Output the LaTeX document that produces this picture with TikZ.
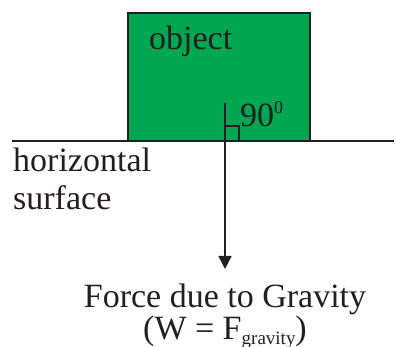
\documentclass[tikz,border=0pt]{standalone}
\usepackage{fontspec}
\setmainfont{Liberation Serif}
\usepackage{xcolor}
\usetikzlibrary{arrows.meta,positioning}
\definecolor{objgreen}{HTML}{00A651}
\definecolor{ink}{HTML}{231F20}
\begin{document}
\begin{tikzpicture}[
  x=1pt, y=-1pt,
  every node/.style={text=ink},
  big/.style={font=\fontsize{34}{32}\selectfont, inner sep=0pt},
  block/.style={draw=ink, line width=1.8pt, fill=objgreen, minimum width=182pt, minimum height=128pt, inner sep=0pt},
  surf/.style={draw=ink, line width=1.5pt},
  arr/.style={-{Triangle[length=13pt,width=13pt]}, draw=ink, line width=1.5pt}
]
\useasboundingbox (0,0) rectangle (396,347);
\node[block] (obj) at (219,77) {};
\node[big, anchor=base west] (objlbl) at (149,50) {object};
\coordinate (sl) at (12,141);
\coordinate (sr) at (394,141);
\draw[surf] (sl) -- (sr);
\node[big, anchor=base west, align=left, font=\fontsize{34}{38}\selectfont] (surflbl) at (13,210) {horizontal\\surface};
% weight arrow and right angle
\coordinate (top) at (225,103);
\coordinate (tip) at (225,269);
\draw[arr] (top) -- (tip);
\draw[surf] (225,126) rectangle (239,141);
\node[big, anchor=base west] (ang) at (240,127) {90\raisebox{13pt}{\fontsize{18}{18}\selectfont 0}};
\node[big, align=center, anchor=base] (force) at (225,339) {Force due to Gravity\\(W = F\raisebox{-5pt}{\fontsize{19}{19}\selectfont gravity})};
\end{tikzpicture}
\end{document}
